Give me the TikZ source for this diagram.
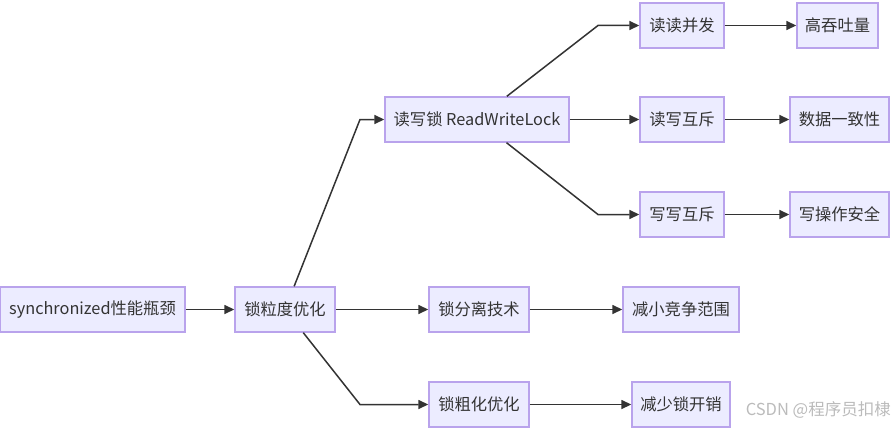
\documentclass[tikz,border=0pt]{standalone}
\usepackage{fontspec}
\setmainfont{Noto Sans CJK SC}
\usetikzlibrary{arrows.meta}
\definecolor{boxfill}{HTML}{ECECFF}
\definecolor{boxline}{HTML}{B9A3EC}
\definecolor{edgecol}{HTML}{333333}
\definecolor{txtcol}{HTML}{333333}
\definecolor{wmcol}{HTML}{BBBBBB}
\tikzset{
  box/.style={draw=boxline, fill=boxfill, line width=1.4pt, minimum height=45pt,
    inner sep=0pt, text=txtcol, font=\fontsize{16.3pt}{18pt}\selectfont},
  arr/.style={draw=edgecol, line width=1.5pt, -{Triangle[length=10pt,width=9pt]}}
}
\begin{document}
\begin{tikzpicture}[x=1pt,y=-1pt]
\useasboundingbox (0,0) rectangle (894,428);
% nodes
\node[box, minimum width=185pt] (A) at (92.5,309.5) {synchronized性能瓶颈};
\node[box, minimum width=100pt] (B) at (285,309.5) {锁粒度优化};
\node[box, minimum width=184pt] (C) at (477,119.5) {读写锁 ReadWriteLock};
\node[box, minimum width=100pt] (E) at (479,309.5) {锁分离技术};
\node[box, minimum width=100pt] (F) at (479,404.5) {锁粗化优化};
\node[box, minimum width=84pt] (D1) at (682,25.5) {读读并发};
\node[box, minimum width=84pt] (D2) at (682,119.5) {读写互斥};
\node[box, minimum width=84pt] (D3) at (682,214.5) {写写互斥};
\node[box, minimum width=81pt] (G1) at (837.5,25.5) {高吞吐量};
\node[box, minimum width=99pt] (G2) at (839.5,119.5) {数据一致性};
\node[box, minimum width=99pt] (G3) at (839.5,214.5) {写操作安全};
\node[box, minimum width=116pt] (H1) at (681,309.5) {减小竞争范围};
\node[box, minimum width=98pt] (H2) at (681,404.5) {减少锁开销};
% bend points
\coordinate (kBC) at (360,119.5);
\coordinate (kBF) at (360,404.5);
\coordinate (kCD1) at (598,25.5);
\coordinate (kCD3) at (598,214.5);
% edges
\draw[arr] (A) -- (B);
\draw[arr] (B) -- (kBC) -- (C);
\draw[arr] (B) -- (E);
\draw[arr] (B) -- (kBF) -- (F);
\draw[arr] (C) -- (kCD1) -- (D1);
\draw[arr] (C) -- (D2);
\draw[arr] (C) -- (kCD3) -- (D3);
\draw[arr] (D1) -- (G1);
\draw[arr] (D2) -- (G2);
\draw[arr] (D3) -- (G3);
\draw[arr] (E) -- (H1);
\draw[arr] (F) -- (H2);
% watermark
\node[anchor=east, text=wmcol, font=\fontsize{16.5pt}{18pt}\selectfont, inner sep=0pt] (wm) at (891,410) {CSDN @程序员扣棣};
\end{tikzpicture}
\end{document}
